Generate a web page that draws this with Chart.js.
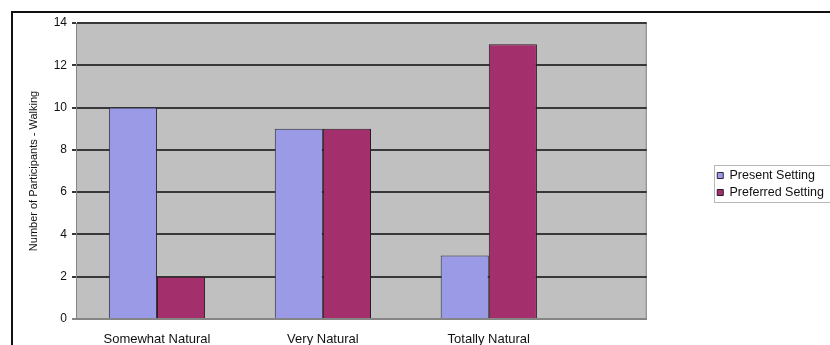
<!DOCTYPE html>
<html>
<head>
<meta charset="utf-8">
<script src="https://cdn.jsdelivr.net/npm/chart.js@4.4.1/dist/chart.umd.min.js"></script>
<style>
  html, body { margin: 0; padding: 0; background: #ffffff; }
  #wrap { position: relative; width: 830px; height: 345px; overflow: hidden; }
  #frame { position: absolute; left: 11px; top: 11px; width: 830px; height: 345px;
           border-top: 2px solid #111; border-left: 2px solid #111; pointer-events: none; }
</style>
</head>
<body>
<div id="wrap">
  <canvas id="c" width="830" height="345"></canvas>
  <div id="frame"></div>
</div>
<script>
const categories = ['Somewhat Natural', 'Very Natural', 'Totally Natural'];
const seriesNames = ['Present Setting', 'Preferred Setting'];
const presentValues = [10, 9, 3];
const preferredValues = [2, 9, 13];
const yTicks = [0, 2, 4, 6, 8, 10, 12, 14];
const yTitle = 'Number of Participants - Walking';

const FONT = '"Liberation Sans", Arial, sans-serif';

const plotBg = {
  id: 'plotBg',
  beforeDraw(chart) {
    const a = chart.chartArea, ctx = chart.ctx;
    ctx.save();
    ctx.fillStyle = '#c0c0c0';
    ctx.fillRect(a.left, a.top, a.right - a.left, a.bottom - a.top);
    ctx.strokeStyle = '#858585';
    ctx.lineWidth = 1;
    ctx.strokeRect(a.left + 0.5, a.top + 0.5, a.right - a.left - 1, a.bottom - a.top - 1);
    ctx.restore();
  }
};

const legendBorder = {
  id: 'legendBorder',
  afterDraw(chart) {
    const hb = chart.legend && chart.legend.legendHitBoxes;
    if (!hb || !hb.length) return;
    let l = Infinity, t = Infinity, r = -Infinity, b = -Infinity;
    hb.forEach(h => { l = Math.min(l, h.left); t = Math.min(t, h.top); r = Math.max(r, h.left + h.width); b = Math.max(b, h.top + h.height); });
    const ctx = chart.ctx;
    ctx.save();
    ctx.strokeStyle = '#b8b8b8';
    ctx.lineWidth = 1;
    ctx.strokeRect(Math.round(l - 3) + 0.5, Math.round(t - 4) + 0.5, Math.round(r - l + 12), Math.round(b - t + 7));
    ctx.restore();
  }
};

new Chart(document.getElementById('c'), {
  type: 'bar',
  data: {
    datasets: [
      {
        label: seriesNames[0],
        data: presentValues.map((v, i) => ({ x: i, y: v })),
        backgroundColor: '#9a9ae6',
        borderColor: '#2a2a3a',
        borderWidth: 1,
        xAxisID: 'x', yAxisID: 'y'
      },
      {
        label: seriesNames[1],
        data: preferredValues.map((v, i) => ({ x: i, y: v })),
        backgroundColor: '#a3306c',
        borderColor: '#2a1a22',
        borderWidth: 1,
        xAxisID: 'x', yAxisID: 'y'
      }
    ]
  },
  options: {
    responsive: false,
    animation: false,
    events: [],
    categoryPercentage: 0.58,
    barPercentage: 1.0,
    layout: { padding: { top: 23, right: -4, bottom: 0, left: 0 } },
    plugins: {
      tooltip: { enabled: false },
      legend: {
        position: 'right',
        align: 'center',
        labels: {
          boxWidth: 6,
          boxHeight: 6,
          padding: 4.5,
          color: '#111',
          font: { family: FONT, size: 12.5 }
        }
      }
    },
    scales: {
      x: {
        type: 'linear',
        position: 'bottom',
        offset: false,
        min: -0.488,
        max: 2.952,
        grid: { display: false, offset: false },
        border: { display: true, color: '#858585', width: 1 },
        afterBuildTicks(axis) { axis.ticks = categories.map((_, i) => ({ value: i })); },
        afterFit(s) { s.height = 26; },
        ticks: {
          autoSkip: false,
          maxRotation: 0,
          padding: 5,
          color: '#111',
          font: { family: FONT, size: 13 },
          callback: (v) => categories[v]
        }
      },
      y: {
        position: 'left',
        min: 0,
        max: 14,
        afterBuildTicks(axis) { axis.ticks = yTicks.map(v => ({ value: v })); },
        afterFit(s) { s.width = 76; },
        grid: {
          color: (c) => (c.tick && c.tick.value === 0) ? '#858585' : '#383838',
          lineWidth: 2,
          tickLength: 4,
          drawTicks: true
        },
        border: { display: true, color: '#858585', width: 1 },
        ticks: {
          padding: 5,
          color: '#111',
          font: { family: FONT, size: 12 }
        },
        title: {
          display: true,
          text: yTitle,
          color: '#111',
          font: { family: FONT, size: 11 },
          padding: { top: 27, bottom: 0 }
        }
      },
      gap: {
        type: 'linear',
        position: 'right',
        display: true,
        grid: { display: false },
        border: { display: false },
        ticks: { display: false },
        afterFit(s) { s.width = 66; }
      }
    }
  },
  plugins: [plotBg, legendBorder]
});
</script>
</body>
</html>
